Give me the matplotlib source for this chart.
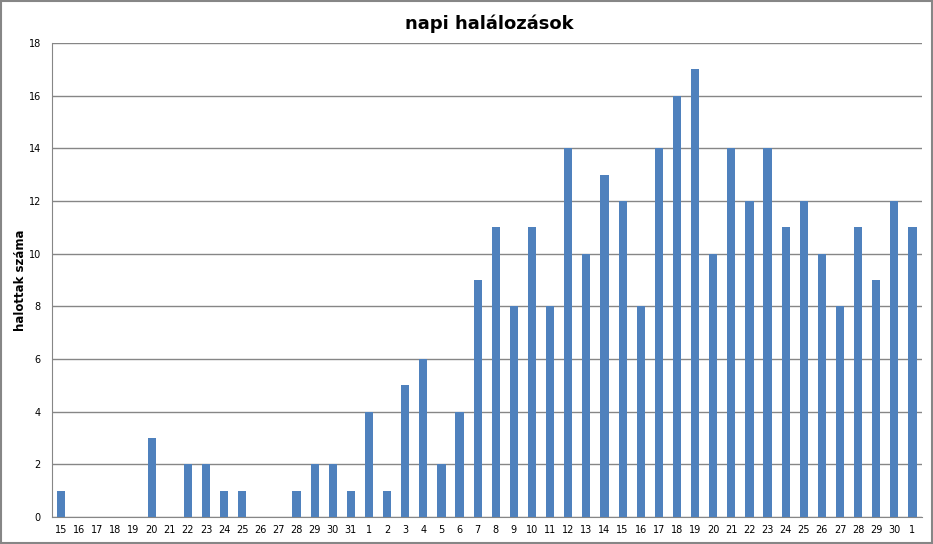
import matplotlib.pyplot as plt
from matplotlib.patches import Rectangle

days = ['15', '16', '17', '18', '19', '20', '21', '22', '23', '24', '25', '26', '27', '28', '29', '30', '31',
        '1', '2', '3', '4', '5', '6', '7', '8', '9', '10', '11', '12', '13', '14', '15', '16', '17', '18', '19',
        '20', '21', '22', '23', '24', '25', '26', '27', '28', '29', '30', '1']
deaths = [1, 0, 0, 0, 0, 3, 0, 2, 2, 1, 1, 0, 0, 1, 2, 2, 1,
          4, 1, 5, 6, 2, 4, 9, 11, 8, 11, 8, 14, 10, 13, 12, 8, 14, 16, 17,
          10, 14, 12, 14, 11, 12, 10, 8, 11, 9, 12, 11]

fig = plt.figure(figsize=(9.33, 5.44), dpi=100)
ax = fig.add_axes([0.0557, 0.0496, 0.932, 0.8714])

x = list(range(len(days)))
ax.bar(x, deaths, width=0.45, color='#4F81BD', zorder=3)

ax.set_xlim(-0.5, len(days) - 0.5)
ax.set_ylim(0, 18)
ax.set_yticks(range(0, 19, 2))
ax.set_xticks(x)
ax.set_xticklabels(days)
ax.tick_params(axis='both', labelsize=7, length=0)
ax.tick_params(axis='x', pad=6)
ax.tick_params(axis='y', pad=8)
ax.yaxis.grid(True, color='#868686', linewidth=1, zorder=0)

for side in ['top', 'right']:
    ax.spines[side].set_visible(False)
ax.spines['left'].set_color('#868686')
ax.spines['bottom'].set_color('#868686')

ax.set_ylabel('halottak száma', fontsize=8.5, fontweight='bold')
ax.yaxis.set_label_coords(-0.029, 0.5)
fig.text(0.524, 0.957, 'napi halálozások', ha='center', va='center', fontsize=13, fontweight='bold')

# keret a kép körül
fig.patches.append(Rectangle((0.001, 0.002), 0.998, 0.996, transform=fig.transFigure,
                             fill=False, edgecolor='#868686', linewidth=1.5))

plt.savefig('out.png', dpi=100)
